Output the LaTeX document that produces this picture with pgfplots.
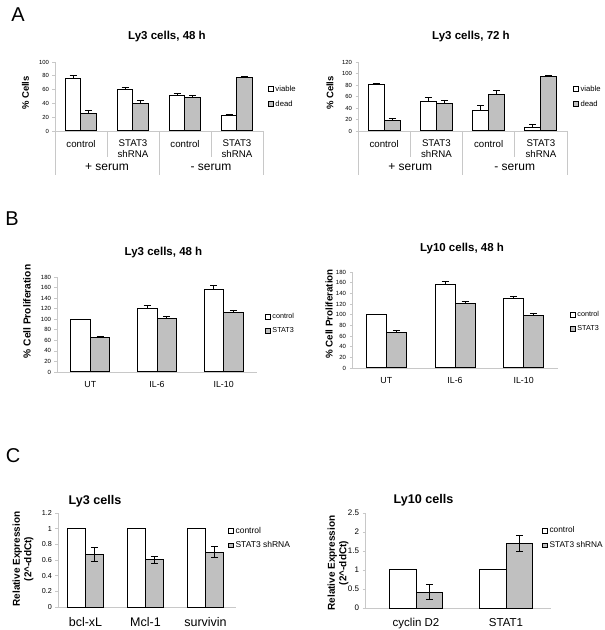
\documentclass[border=0pt]{standalone}
\usepackage{fontspec}
\setmainfont{Liberation Sans}
\usepackage{pgfplots}
\pgfplotsset{compat=1.18}
\definecolor{barGray}{RGB}{192,192,192}
\definecolor{axGray}{RGB}{200,200,200}
\newcommand\fs[2]{\fontsize{#1bp}{#2bp}\selectfont}
\pgfplotsset{
  panel/.style={
    scale only axis, ybar=0pt, clip=false, enlargelimits=false,
    axis x line*=bottom, axis y line*=left,
    axis line style={draw=axGray, line width=0.6bp},
    ytick style={draw=axGray, line width=0.6bp},
    tick align=outside, major tick length=2.5bp,
    major x tick style={draw=none},
    /pgf/number format/assume math mode=true,
    legend cell align=left,
    legend image code/.code={\draw[##1,draw=black,line width=0.7bp] (0bp,-2.3bp) rectangle (4.6bp,2.3bp);},
    every axis plot/.append style={draw=black, line width=1bp},
    error bars/error bar style={line width=0.9bp, black},
    error bars/error mark options={rotate=90, mark size=3.5bp, line width=0.9bp, black},
  },
  wbar/.style={fill=white, draw=black},
  gbar/.style={fill=barGray, draw=black},
}
\begin{document}
\begin{tikzpicture}
\path[use as bounding box] (0,0) rectangle (605bp,630bp);
\node[font=\fs{20}{22}] at (18bp,615bp) {A};
\node[font=\fs{20}{22}] at (12bp,411bp) {B};
\node[font=\fs{20}{22}] at (13bp,174bp) {C};

% ---------- A left ----------
\begin{axis}[panel,
  at={(55bp,499bp)}, anchor=south west, width=208bp, height=69bp,
  xmin=-0.5, xmax=3.5, ymin=0, ymax=100, ytick={0,20,40,60,80,100},
  bar width=15.5bp,
  xtick={0,1,2,3}, xticklabels={control,{STAT3\\shRNA},control,{STAT3\\shRNA}},
  xticklabel style={align=center, font=\fs{9.7}{11}, yshift=-3bp},
  yticklabel style={font=\fs{5.9}{7}},
  title={Ly3 cells, 48 h},
  every axis title/.style={at={(rel axis cs:0.5,1)}, anchor=center, xshift=8bp, yshift=25bp, font=\bfseries\fs{11.5}{13}},
  ylabel={\% Cells},
  every axis y label/.style={at={(rel axis cs:0,0.5)}, xshift=-29.5bp, yshift=3.5bp, rotate=90, anchor=center, font=\bfseries\fs{9.5}{11}},
  legend style={draw=none, fill=none, at={(1.024,0.5)}, anchor=west, font=\fs{7.7}{9}, inner sep=0pt, row sep=4bp},
]
\addplot[wbar, error bars/.cd, y dir=plus, y explicit] coordinates {(0,76) +- (0,5) (1,60) +- (0,3) (2,52) +- (0,3) (3,23) +- (0,1)};
\addplot[gbar, error bars/.cd, y dir=plus, y explicit] coordinates {(0,25) +- (0,5) (1,40) +- (0,4) (2,48) +- (0,4) (3,78) +- (0,1)};
\legend{viable,dead}
\draw[axGray, line width=0.6bp] (axis cs:-0.5,0) -- ([yshift=-44bp]axis cs:-0.5,0);
\draw[axGray, line width=0.6bp] (axis cs:1.5,0) -- ([yshift=-44bp]axis cs:1.5,0);
\draw[axGray, line width=0.6bp] (axis cs:3.5,0) -- ([yshift=-44bp]axis cs:3.5,0);
\draw[axGray, line width=0.6bp] (axis cs:0.5,0) -- ([yshift=-26bp]axis cs:0.5,0);
\draw[axGray, line width=0.6bp] (axis cs:2.5,0) -- ([yshift=-26bp]axis cs:2.5,0);
\node[font=\fs{12}{14}, yshift=-36bp] at (axis cs:0.5,0) {+ serum};
\node[font=\fs{12}{14}, yshift=-36bp] at (axis cs:2.5,0) {- serum};
\end{axis}

% ---------- A right ----------
\begin{axis}[panel,
  at={(358bp,499bp)}, anchor=south west, width=209bp, height=69bp,
  xmin=-0.5, xmax=3.5, ymin=0, ymax=120, ytick={0,20,40,60,80,100,120},
  bar width=16bp,
  xtick={0,1,2,3}, xticklabels={control,{STAT3\\shRNA},control,{STAT3\\shRNA}},
  xticklabel style={align=center, font=\fs{9.7}{11}, yshift=-3bp},
  yticklabel style={font=\fs{5.9}{7}},
  title={Ly3 cells, 72 h},
  every axis title/.style={at={(rel axis cs:0.5,1)}, anchor=center, xshift=8.5bp, yshift=25bp, font=\bfseries\fs{11.5}{13}},
  ylabel={\% Cells},
  every axis y label/.style={at={(rel axis cs:0,0.5)}, xshift=-28bp, yshift=3.5bp, rotate=90, anchor=center, font=\bfseries\fs{9.5}{11}},
  legend style={draw=none, fill=none, at={(1.029,0.5)}, anchor=west, font=\fs{7.7}{9}, inner sep=0pt, row sep=4bp},
]
\addplot[wbar, error bars/.cd, y dir=plus, y explicit] coordinates {(0,81) +- (0,2) (1,52) +- (0,6) (2,36) +- (0,8) (3,6) +- (0,5)};
\addplot[gbar, error bars/.cd, y dir=plus, y explicit] coordinates {(0,19) +- (0,2) (1,47) +- (0,6) (2,64) +- (0,7) (3,94) +- (0,3)};
\legend{viable,dead}
\draw[axGray, line width=0.6bp] (axis cs:-0.5,0) -- ([yshift=-44bp]axis cs:-0.5,0);
\draw[axGray, line width=0.6bp] (axis cs:1.5,0) -- ([yshift=-44bp]axis cs:1.5,0);
\draw[axGray, line width=0.6bp] (axis cs:3.5,0) -- ([yshift=-44bp]axis cs:3.5,0);
\draw[axGray, line width=0.6bp] (axis cs:0.5,0) -- ([yshift=-26bp]axis cs:0.5,0);
\draw[axGray, line width=0.6bp] (axis cs:2.5,0) -- ([yshift=-26bp]axis cs:2.5,0);
\node[font=\fs{12}{14}, yshift=-36bp] at (axis cs:0.5,0) {+ serum};
\node[font=\fs{12}{14}, yshift=-36bp] at (axis cs:2.5,0) {- serum};
\end{axis}

% ---------- B left ----------
\begin{axis}[panel,
  at={(57bp,258bp)}, anchor=south west, width=200bp, height=95bp,
  xmin=-0.5, xmax=2.5, ymin=0, ymax=180, ytick={0,20,40,60,80,100,120,140,160,180},
  bar width=19.5bp,
  xtick={0,1,2}, xticklabels={UT,IL-6,IL-10},
  xticklabel style={font=\fs{8.8}{10}, yshift=-3bp},
  yticklabel style={font=\fs{6}{7}},
  title={Ly3 cells, 48 h},
  every axis title/.style={at={(rel axis cs:0.5,1)}, anchor=center, xshift=6.5bp, yshift=24.3bp, font=\bfseries\fs{11.5}{13}},
  ylabel={\% Cell Proliferation},
  every axis y label/.style={at={(rel axis cs:0,0.5)}, xshift=-30bp, yshift=13bp, rotate=90, anchor=center, font=\bfseries\fs{10.2}{12}},
  legend style={draw=none, fill=none, at={(1.04,0.505)}, anchor=west, font=\fs{7.2}{8.5}, inner sep=0pt, row sep=3.5bp},
]
\addplot[wbar, error bars/.cd, y dir=plus, y explicit] coordinates {(0,100) +- (0,0) (1,120) +- (0,6) (2,157) +- (0,7)};
\addplot[gbar, error bars/.cd, y dir=plus, y explicit] coordinates {(0,65) +- (0,3) (1,102) +- (0,4) (2,112) +- (0,4)};
\legend{control,STAT3}
\end{axis}

% ---------- B right ----------
\begin{axis}[panel,
  at={(352bp,262bp)}, anchor=south west, width=206bp, height=96bp,
  xmin=-0.5, xmax=2.5, ymin=0, ymax=180, ytick={0,20,40,60,80,100,120,140,160,180},
  bar width=20bp,
  xtick={0,1,2}, xticklabels={UT,IL-6,IL-10},
  xticklabel style={font=\fs{8.8}{10}, yshift=-3bp},
  yticklabel style={font=\fs{6}{7}},
  title={Ly10 cells, 48 h},
  every axis title/.style={at={(rel axis cs:0.5,1)}, anchor=center, xshift=7bp, yshift=23bp, font=\bfseries\fs{11.5}{13}},
  ylabel={\% Cell Proliferation},
  every axis y label/.style={at={(rel axis cs:0,0.5)}, xshift=-23bp, yshift=6bp, rotate=90, anchor=center, font=\bfseries\fs{9.8}{11}},
  legend style={draw=none, fill=none, at={(1.058,0.479)}, anchor=west, font=\fs{7.2}{8.5}, inner sep=0pt, row sep=3.5bp},
]
\addplot[wbar, error bars/.cd, y dir=plus, y explicit] coordinates {(0,100) +- (0,0) (1,157) +- (0,5) (2,130) +- (0,5)};
\addplot[gbar, error bars/.cd, y dir=plus, y explicit] coordinates {(0,66) +- (0,5) (1,121) +- (0,4) (2,98) +- (0,5)};
\legend{control,STAT3}
\end{axis}

% ---------- C left ----------
\begin{axis}[panel,
  at={(58bp,23bp)}, anchor=south west, width=177.5bp, height=94bp,
  xmin=-0.458, xmax=2.5, ymin=0, ymax=1.2, ytick={0,0.2,0.4,0.6,0.8,1,1.2},
  bar width=18bp,
  xtick={0,1,2}, xticklabels={bcl-xL,Mcl-1,survivin},
  xticklabel style={font=\fs{12.5}{14}, yshift=-4bp},
  yticklabel style={font=\fs{7.2}{8.5}},
  title={Ly3 cells},
  every axis title/.style={at={(rel axis cs:0,1)}, anchor=west, xshift=7bp, yshift=11.3bp, font=\bfseries\fs{12.6}{14}},
  ylabel={Relative Expression\\(2\textasciicircum-ddCt)},
  every axis y label/.style={at={(rel axis cs:0,0.5)}, xshift=-35bp, yshift=1bp, rotate=90, anchor=center, align=center, font=\bfseries\fs{10}{11.5}},
  legend style={draw=none, fill=none, at={(0.958,0.734)}, anchor=west, font=\fs{8.5}{10}, inner sep=0pt, row sep=3bp},
]
\addplot[wbar] coordinates {(0,1) (1,1) (2,1)};
\addplot[gbar, error bars/.cd, y dir=both, y explicit] coordinates {(0,0.67) +- (0,0.09) (1,0.60) +- (0,0.04) (2,0.70) +- (0,0.07)};
\legend{control,STAT3 shRNA}
\end{axis}

% ---------- C right ----------
\begin{axis}[panel,
  at={(365bp,22bp)}, anchor=south west, width=186bp, height=95bp,
  xmin=-0.567, xmax=1.5, ymin=0, ymax=2.5, ytick={0,0.5,1,1.5,2,2.5},
  bar width=26.5bp,
  xtick={0,1}, xticklabels={cyclin D2,STAT1},
  xticklabel style={font=\fs{11.5}{13}, yshift=-4bp},
  yticklabel style={font=\fs{8}{9}},
  title={Ly10 cells},
  every axis title/.style={at={(rel axis cs:0,1)}, anchor=west, xshift=25bp, yshift=12.3bp, font=\bfseries\fs{12.6}{14}},
  ylabel={Relative Expression\\(2\textasciicircum-ddCt)},
  every axis y label/.style={at={(rel axis cs:0,0.5)}, xshift=-27bp, yshift=-2.5bp, rotate=90, anchor=center, align=center, font=\bfseries\fs{10}{11.5}},
  legend style={draw=none, fill=none, at={(0.952,0.737)}, anchor=west, font=\fs{8.3}{10}, inner sep=0pt, row sep=3bp},
]
\addplot[wbar] coordinates {(0,1) (1,1)};
\addplot[gbar, error bars/.cd, y dir=both, y explicit] coordinates {(0,0.42) +- (0,0.2) (1,1.71) +- (0,0.21)};
\legend{control,STAT3 shRNA}
\end{axis}
\end{tikzpicture}
\end{document}
